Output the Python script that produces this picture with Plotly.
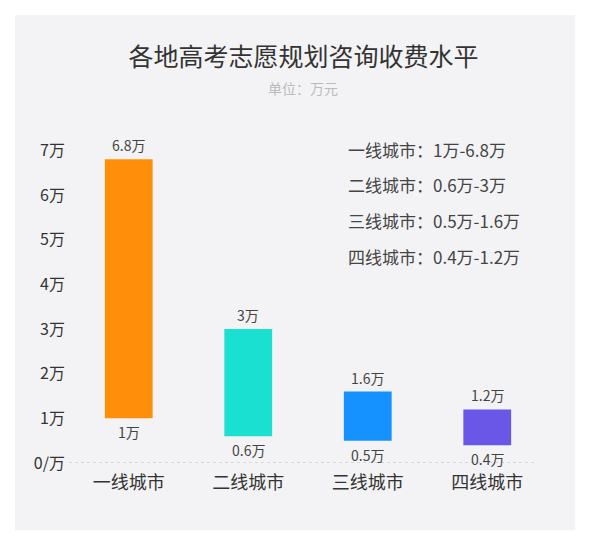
import plotly.graph_objects as go

# fee ranges per city tier (unit: 万元)
cities = ['一线城市', '二线城市', '三线城市', '四线城市']
fee_low = [1, 0.6, 0.5, 0.4]
fee_high = [6.8, 3, 1.6, 1.2]
bar_colors = ['#ff8f0a', '#19e0d0', '#1592ff', '#6a57e8']
tick_vals = [0, 1, 2, 3, 4, 5, 6, 7]
tick_text = ['0/万', '1万', '2万', '3万', '4万', '5万', '6万', '7万']

font_cn = 'Noto Sans CJK SC, Noto Sans, sans-serif'


def fmt(v):
    return '{:g}万'.format(v)


fig = go.Figure()

# floating bars: base at the low fee, height up to the high fee
fig.add_trace(go.Bar(
    x=cities,
    y=[h - l for h, l in zip(fee_high, fee_low)],
    base=fee_low,
    marker=dict(color=bar_colors, line=dict(width=0)),
    hoverinfo='skip',
    showlegend=False
))

fig.update_layout(
    width=591,
    height=550,
    margin=dict(l=61, r=52, t=129, b=95),
    paper_bgcolor='#ffffff',
    plot_bgcolor='rgba(255,255,255,0.55)',
    font=dict(family=font_cn, color='#333333'),
    bargap=0.6,
    title=dict(
        text='各地高考志愿规划咨询收费水平',
        x=0.5, xanchor='center', y=0.911, yanchor='middle',
        font=dict(size=25, color='#333333')
    ),
    xaxis=dict(
        showgrid=False, showline=False, zeroline=False,
        tickfont=dict(size=18, color='#333333'),
        ticks='', ticklabelstandoff=7,
    ),
    yaxis=dict(
        range=[0, 7.3],
        tickvals=tick_vals, ticktext=tick_text,
        showgrid=False, showline=False, zeroline=False,
        tickfont=dict(size=16, color='#333333'),
        ticklabelstandoff=3,
    ),
)

# value labels above and below each bar
for c, lo, hi in zip(cities, fee_low, fee_high):
    fig.add_annotation(x=c, y=hi, text=fmt(hi), showarrow=False,
                       yanchor='bottom', yshift=2,
                       font=dict(size=14, color='#444444'))
    fig.add_annotation(x=c, y=lo, text=fmt(lo), showarrow=False,
                       yanchor='top', yshift=-2,
                       font=dict(size=14, color='#444444'))

# grey card behind the chart
fig.add_shape(type='rect', xref='paper', yref='paper', layer='below',
              x0=-0.113, x1=1.059, y0=-0.206, y1=1.374,
              fillcolor='#f3f3f5', line=dict(width=0))
# dotted baseline
fig.add_shape(type='line', xref='paper', yref='y', x0=0, x1=0.98, y0=0, y1=0,
              line=dict(color='#bbbbbb', width=1, dash='dot'))

# subtitle
fig.add_annotation(text='单位：万元', xref='paper', yref='paper', x=0.49, y=1.15,
                   xanchor='center', yanchor='middle',
                   showarrow=False, font=dict(size=14, color='#bbbbbb'))

# range summary text block
for i, (c, lo, hi) in enumerate(zip(cities, fee_low, fee_high)):
    fig.add_annotation(
        text='{}：{}-{}'.format(c, fmt(lo), fmt(hi)),
        xref='paper', yref='paper', x=0.58, y=0.963 - i * 0.11,
        xanchor='left', yanchor='middle', showarrow=False,
        font=dict(size=17, color='#444444')
    )

fig.write_html('out.html')
